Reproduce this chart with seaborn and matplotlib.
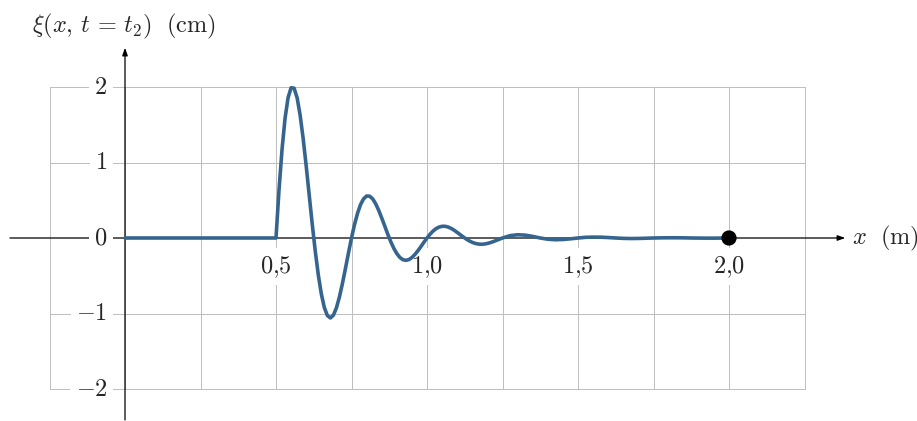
import matplotlib
matplotlib.use('Agg')
import matplotlib.pyplot as plt
import seaborn as sns

# positions along the string (m) and displacement (cm)
x_flat = [0.0]
xi_flat = [0.0]

x_wave = [0.50, 0.51, 0.52, 0.53, 0.54, 0.55, 0.56, 0.57, 0.58, 0.59,
          0.60, 0.61, 0.62, 0.63, 0.64, 0.65, 0.66, 0.67, 0.68, 0.69,
          0.70, 0.71, 0.72, 0.73, 0.74, 0.75, 0.76, 0.77, 0.78, 0.79,
          0.80, 0.81, 0.82, 0.83, 0.84, 0.85, 0.86, 0.87, 0.88, 0.89,
          0.90, 0.91, 0.92, 0.93, 0.94, 0.95, 0.96, 0.97, 0.98, 0.99,
          1.00, 1.01, 1.02, 1.03, 1.04, 1.05, 1.06, 1.07, 1.08, 1.09,
          1.10, 1.11, 1.12, 1.13, 1.14, 1.15, 1.16, 1.17, 1.18, 1.19,
          1.20, 1.21, 1.22, 1.23, 1.24, 1.25]
xi_wave = [0.000, 0.638, 1.175, 1.586, 1.859, 1.990, 1.984, 1.856, 1.624, 1.315,
           0.953, 0.567, 0.183, -0.174, -0.487, -0.739, -0.920, -1.027, -1.059, -1.023,
           -0.926, -0.781, -0.602, -0.403, -0.197, 0.000, 0.178, 0.328, 0.443, 0.519,
           0.556, 0.554, 0.519, 0.454, 0.367, 0.266, 0.159, 0.051, -0.049, -0.136,
           -0.206, -0.257, -0.287, -0.296, -0.286, -0.259, -0.218, -0.168, -0.113, -0.055,
           0.000, 0.050, 0.092, 0.124, 0.145, 0.155, 0.155, 0.145, 0.127, 0.103,
           0.074, 0.044, 0.014, -0.014, -0.038, -0.058, -0.072, -0.080, -0.083, -0.080,
           -0.072, -0.061, -0.047, -0.031, -0.015, 0.000]

x_tail = [1.275, 1.300, 1.325, 1.350, 1.375, 1.400, 1.425, 1.450, 1.475, 1.500,
          1.525, 1.550, 1.575, 1.600, 1.625, 1.650, 1.675, 1.700, 1.725, 1.750,
          1.775, 1.800, 1.825, 1.850, 1.875, 1.900, 1.925, 1.950, 1.975, 2.000]
xi_tail = [0.031, 0.043, 0.038, 0.021, 0.000, -0.016, -0.023, -0.020, -0.011, 0.000,
           0.009, 0.012, 0.011, 0.006, 0.000, -0.005, -0.007, -0.006, -0.003, 0.000,
           0.002, 0.003, 0.003, 0.002, 0.000, -0.001, -0.002, -0.002, -0.001, 0.000]

front_x = [2.0]
front_xi = [0.0]

x_ticks = [0.5, 1.0, 1.5, 2.0]
x_tick_labels = [r'$0{,}5$', r'$1{,}0$', r'$1{,}5$', r'$2{,}0$']
y_ticks = [2, 1, 0, -1, -2]
y_tick_labels = [r'$2$', r'$1$', r'$0$', r'$-1$', r'$-2$']

sns.set_style('white')
plt.rcParams['mathtext.fontset'] = 'cm'
plt.rcParams['font.family'] = ['DejaVu Serif']

fig = plt.figure(figsize=(9.17, 4.21), dpi=100)
ax = fig.add_axes([0, 0, 1, 1])
ax.set_xlim(-125 / 302, (917 - 125) / 302)
ax.set_ylim((238 - 421) / 75.5, 238 / 75.5)
ax.axis('off')

# grid
grid_col = '#bdbdbd'
for gx in [-0.25, 0, 0.25, 0.5, 0.75, 1.0, 1.25, 1.5, 1.75, 2.0, 2.25]:
    ax.plot([gx, gx], [-2, 2], color=grid_col, lw=0.7, zorder=1)
for gy in [-2, -1, 1, 2]:
    ax.plot([-0.25, 2.25], [gy, gy], color=grid_col, lw=0.7, zorder=1)

# axes with arrows
arrow = dict(arrowstyle='-|>,head_length=0.45,head_width=0.16', color='black',
             lw=0.9, shrinkA=0, shrinkB=0)
ax.annotate('', xy=(2.385, 0), xytext=(-0.381, 0), arrowprops=arrow, zorder=2)
ax.annotate('', xy=(0, 2.52), xytext=(0, -2.41), arrowprops=arrow, zorder=2)

# wave
x_all = x_flat + x_wave + x_tail
xi_all = xi_flat + xi_wave + xi_tail
sns.lineplot(x=x_all, y=xi_all, ax=ax, sort=False, estimator=None,
             color='#35658f', lw=2.6, zorder=4)
sns.scatterplot(x=front_x, y=front_xi, ax=ax, color='black', s=120,
                edgecolor='none', zorder=5)

fs = 17.5
box = dict(fc='white', ec='none', pad=4)
for t, lab in zip(y_ticks, y_tick_labels):
    ax.text(-0.058, t, lab, ha='right', va='center', fontsize=fs, bbox=box, zorder=3)
for t, lab in zip(x_ticks, x_tick_labels):
    ax.text(t, -0.38, lab, ha='center', va='center', fontsize=fs, bbox=box, zorder=3)

ax.text(-0.005, 2.80, r'$\xi(x,\,t\,=\,t_2)\ \ \mathrm{(cm)}$', ha='center', va='center',
        fontsize=fs)
ax.text(2.406, 0.0, r'$x\ \ \mathrm{(m)}$', ha='left', va='center', fontsize=fs)

fig.savefig('out.png', dpi=100)
